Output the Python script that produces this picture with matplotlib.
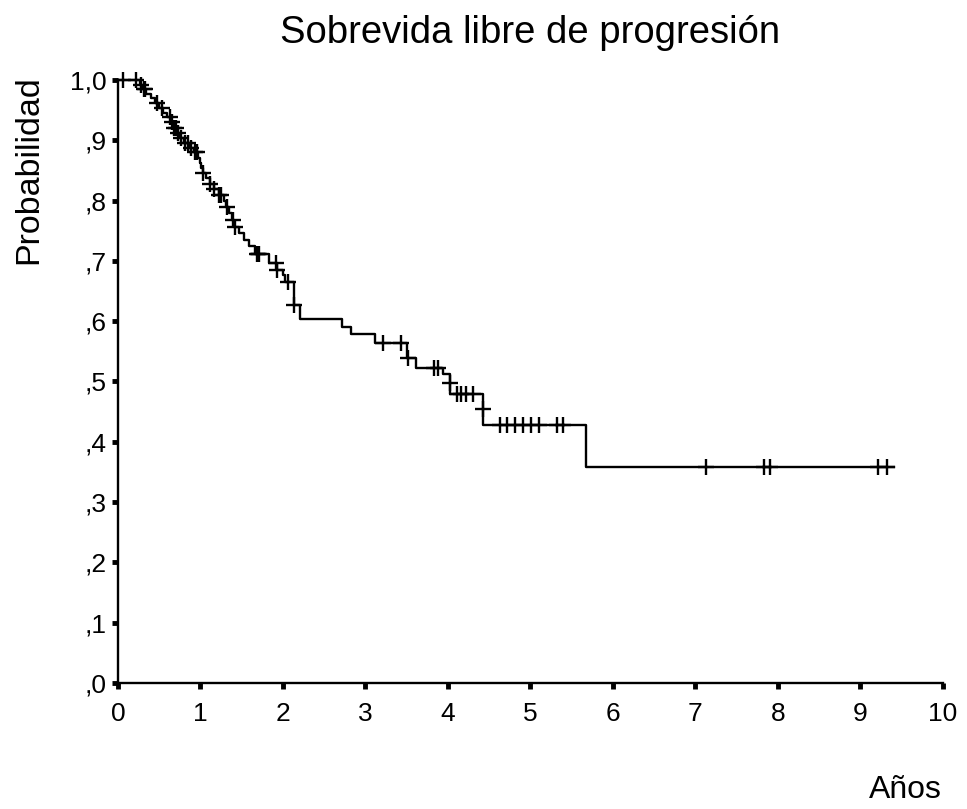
import numpy as np
import matplotlib
matplotlib.use('Agg')
import matplotlib.pyplot as plt

plt.rcParams['font.family'] = ['Liberation Sans', 'DejaVu Sans']

# ------------ DATA ----------------------------------
# times (years) where the curve drops, and the level right after each drop
event_times = [0.27, 0.30, 0.34, 0.40, 0.45, 0.50, 0.55, 0.60, 0.64, 0.68,
               0.72, 0.75, 0.80, 0.86, 0.92, 0.97, 1.00, 1.01, 1.03, 1.07,
               1.12, 1.16, 1.22, 1.28, 1.31, 1.35, 1.38, 1.41, 1.47, 1.53,
               1.59, 1.66, 1.83, 1.925, 2.00, 2.02, 2.13, 2.131, 2.21, 2.72,
               2.82, 3.12, 3.50, 3.61, 3.94, 4.02, 4.025, 4.42, 4.43, 5.67]
event_levels = [0.992, 0.985, 0.977, 0.970, 0.962, 0.954, 0.946, 0.938, 0.930, 0.921,
                0.913, 0.904, 0.896, 0.888, 0.880, 0.871, 0.863, 0.854, 0.846, 0.837,
                0.828, 0.819, 0.810, 0.800, 0.790, 0.779, 0.768, 0.757, 0.746, 0.735,
                0.724, 0.712, 0.697, 0.685, 0.677, 0.665, 0.646, 0.627, 0.603, 0.590,
                0.578, 0.563, 0.539, 0.522, 0.512, 0.497, 0.479, 0.455, 0.427, 0.358]
# censored observations (years)
censor_times = [0.06, 0.22, 0.28, 0.31, 0.33, 0.47, 0.53, 0.63, 0.66, 0.68,
                0.70, 0.73, 0.76, 0.81, 0.85, 0.88, 0.93, 0.96, 1.035, 1.12,
                1.17, 1.22, 1.25, 1.32, 1.39, 1.42, 1.69, 1.70, 1.71, 1.92,
                1.93, 2.06, 2.135, 3.21, 3.43, 3.515, 3.83, 3.88, 4.021, 4.11,
                4.16, 4.22, 4.30, 4.425, 4.63, 4.72, 4.81, 4.91, 5.01, 5.11,
                5.32, 5.39, 7.13, 7.83, 7.90, 9.22, 9.32]
end_time = 9.41

x_ticks = [0, 1, 2, 3, 4, 5, 6, 7, 8, 9, 10]
y_ticks = [0.0, 0.1, 0.2, 0.3, 0.4, 0.5, 0.6, 0.7, 0.8, 0.9, 1.0]
y_labels = [',0', ',1', ',2', ',3', ',4', ',5', ',6', ',7', ',8', ',9', '1,0']
# ----------------------------------------------------

t_steps = np.array([0.0] + event_times + [end_time])
s_steps = np.array([1.0] + event_levels + [event_levels[-1]])

# level of the curve at each censoring time
idx = np.searchsorted(t_steps, censor_times, side='right') - 1
censor_levels = s_steps[idx]

fig = plt.figure(figsize=(9.67, 8.09), dpi=100)
ax = fig.add_axes([0.122, 0.156, 0.853, 0.745])

ax.step(t_steps, s_steps, where='post', color='black', lw=1.7, clip_on=False)
ax.plot(censor_times, censor_levels, linestyle='none', marker='+',
        markersize=11, mew=1.7, color='black', clip_on=False)

ax.set_xlim(0, 10)
ax.set_ylim(0, 1.0)
ax.set_xticks(x_ticks)
ax.set_xticklabels([str(v) for v in x_ticks])
ax.set_yticks(y_ticks)
ax.set_yticklabels(y_labels)
ax.tick_params(direction='out', length=4, width=3.5, labelsize=19)
ax.tick_params(axis='x', pad=10)
ax.tick_params(axis='y', pad=4)

for side in ['top', 'right']:
    ax.spines[side].set_visible(False)
for side in ['left', 'bottom']:
    ax.spines[side].set_linewidth(1.7)
ax.patch.set_visible(False)

fig.text(0.548, 0.959, 'Sobrevida libre de progresión', ha='center', va='center', fontsize=27.5)
fig.text(0.03, 0.907, 'Probabilidad', rotation=90, ha='center', va='top', fontsize=24.5)
fig.text(0.936, 0.023, 'Años', ha='center', va='center', fontsize=23)

plt.savefig('out.png', dpi=100)
